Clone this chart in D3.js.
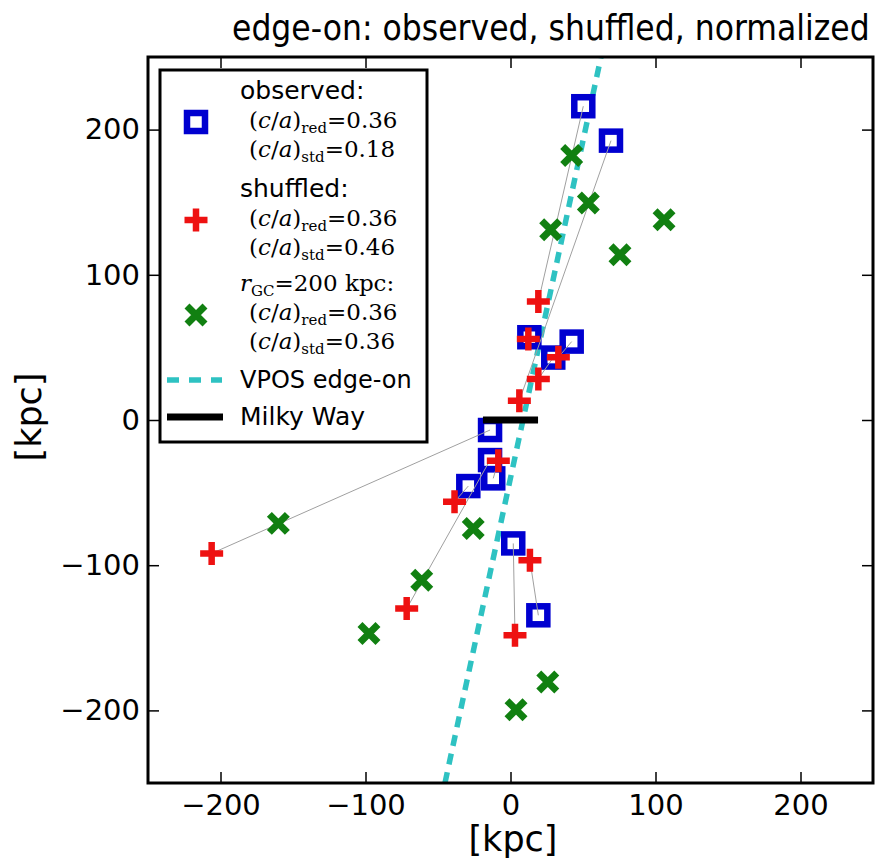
<!DOCTYPE html>
<html>
<head>
<meta charset="utf-8">
<script src="https://cdn.jsdelivr.net/npm/d3@7"></script>
<style>
  body { margin: 0; background: #fff; }
  text { font-family: "DejaVu Sans", sans-serif; }
  .math { font-family: "DejaVu Serif", serif; }
</style>
</head>
<body>
<div id="chart"></div>
<script>
// satellite positions, edge-on view [x, y] in kpc (same order in every array)
const observed = [[50.2, 216.1], [69.3, 192.4], [13.0, 57.0], [42.2, 54.0], [29.5, 43.0],
  [-14.1, -6.9], [-14.1, -27.6], [-11.9, -40.2], [-29.1, -45.5], [1.9, -85.0], [19.2, -134.5]];
const shuffled = [[19.2, 81.6], [6.1, 13.3], [12.3, 55.7], [33.0, 43.2], [19.2, 28.3],
  [-206.1, -91.9], [-71.6, -129.9], [-8.4, -28.1], [-38.6, -56.3], [3.1, -148.3], [13.4, -96.6]];
const normalized = [[42.2, 182.1], [53.7, 149.4], [27.7, 131.0], [105.9, 137.9], [75.5, 113.8],
  [-160.1, -71.2], [-61.2, -110.3], [-25.7, -74.7], [-97.6, -147.1], [3.8, -199.5], [25.7, -180.5]];
const vposLine = [[-45.2, -250], [62.4, 250]];
const milkyWay = [[-19, 0], [19, 0]];
const ticks = [-200, -100, 0, 100, 200];
const caStats = [
  { head: "observed:", red: "0.36", std: "0.18" },
  { head: "shuffled:", red: "0.36", std: "0.46" },
  { head: "rGC", red: "0.36", std: "0.36" }
];

const W = 892, H = 864;
const plot = { left: 148, right: 873, top: 57, bottom: 783 };

const svg = d3.select("#chart").append("svg")
  .attr("width", W).attr("height", H);

const x = d3.scaleLinear().domain([-250, 250]).range([plot.left, plot.right]);
const y = d3.scaleLinear().domain([-250, 250]).range([plot.bottom, plot.top]);

const blue = "#0000d0", red = "#ee1111", green = "#118011", cyan = "#2ec2c2";

/** markers */
const square = (g) => g.append("rect")
  .attr("x", -9).attr("y", -9).attr("width", 18).attr("height", 18)
  .attr("fill", "#fff").attr("stroke", blue).attr("stroke-width", 6.5);
const plus = (g) => g.append("path")
  .attr("d", "M-11.5,0H11.5M0,-11.5V11.5").attr("stroke", red).attr("stroke-width", 6.5);
const cross = (g) => g.append("path")
  .attr("d", "M-9,-9L9,9M-9,9L9,-9").attr("stroke", green).attr("stroke-width", 7);

const line = d3.line().x((d) => x(d[0])).y((d) => y(d[1]));

// VPOS plane
svg.append("path").attr("d", line(vposLine))
  .attr("fill", "none").attr("stroke", cyan).attr("stroke-width", 5.5)
  .attr("stroke-dasharray", "11,8");

// observed points
svg.append("g").selectAll("g").data(observed).join("g")
  .attr("transform", (d) => `translate(${x(d[0])},${y(d[1])})`)
  .each(function () { square(d3.select(this)); });

// connecting lines observed -> shuffled
svg.append("g").selectAll("path").data(observed).join("path")
  .attr("d", (d, i) => line([d, shuffled[i]]))
  .attr("stroke", "#a0a0a0").attr("stroke-width", 1).attr("fill", "none");

svg.append("g").selectAll("g").data(shuffled).join("g")
  .attr("transform", (d) => `translate(${x(d[0])},${y(d[1])})`)
  .each(function () { plus(d3.select(this)); });

svg.append("g").selectAll("g").data(normalized).join("g")
  .attr("transform", (d) => `translate(${x(d[0])},${y(d[1])})`)
  .each(function () { cross(d3.select(this)); });

// Milky Way disk
svg.append("path").attr("d", line(milkyWay))
  .attr("stroke", "#000").attr("stroke-width", 7);

/** axes: inward ticks on all four sides */
const fmt = d3.format("d");
const styleAxis = (g) => {
  g.select(".domain").remove();
  g.selectAll(".tick line").attr("stroke", "#000").attr("stroke-width", 1.5);
  g.selectAll(".tick text").attr("fill", "#000").style("font-size", "29px")
    .style("font-family", "DejaVu Sans");
};
svg.append("g").attr("transform", `translate(0,${plot.bottom})`)
  .call(d3.axisBottom(x).tickValues(ticks).tickFormat(fmt).tickSize(-11).tickPadding(11))
  .call(styleAxis);
svg.append("g").attr("transform", `translate(0,${plot.top})`)
  .call(d3.axisTop(x).tickValues(ticks).tickFormat("").tickSize(-11))
  .call(styleAxis);
svg.append("g").attr("transform", `translate(${plot.left},0)`)
  .call(d3.axisLeft(y).tickValues(ticks).tickFormat(fmt).tickSize(-11).tickPadding(8))
  .call(styleAxis);
svg.append("g").attr("transform", `translate(${plot.right},0)`)
  .call(d3.axisRight(y).tickValues(ticks).tickFormat("").tickSize(-11))
  .call(styleAxis);

svg.append("rect")
  .attr("x", plot.left).attr("y", plot.top)
  .attr("width", plot.right - plot.left).attr("height", plot.bottom - plot.top)
  .attr("fill", "none").attr("stroke", "#000").attr("stroke-width", 3);

svg.append("text").attr("transform", "translate(232,40) scale(1,1.12)")
  .style("font-size", "31.5px").text("edge-on: observed, shuffled, normalized");
svg.append("text").attr("x", 513).attr("y", 851).attr("text-anchor", "middle")
  .style("font-size", "35px").text("[kpc]");
svg.append("text").attr("transform", "translate(41,417) rotate(-90)")
  .attr("text-anchor", "middle").style("font-size", "35px").text("[kpc]");

/** legend */
const lg = svg.append("g");
lg.append("rect").attr("x", 160).attr("y", 70).attr("width", 267).attr("height", 372)
  .attr("fill", "#fff").attr("stroke", "#000").attr("stroke-width", 3);

const mathLine = (yy, sub, val) => {
  const t = lg.append("text").attr("class", "math").attr("x", 249).attr("y", yy)
    .style("font-size", "23px");
  t.append("tspan").text("(");
  t.append("tspan").style("font-style", "italic").text("c");
  t.append("tspan").text("/");
  t.append("tspan").style("font-style", "italic").text("a");
  t.append("tspan").text(")");
  t.append("tspan").attr("dy", 5).style("font-size", "15px").text(sub);
  t.append("tspan").attr("dy", -5).text("=" + val);
};

const groupY = [[99, 128, 157], [197, 226, 255], [291, 320, 349]];
const markerY = [122, 220, 315];
const markers = [square, plus, cross];
caStats.forEach((s, i) => {
  const [hy, ry, sy] = groupY[i];
  if (s.head === "rGC") {
    const t = lg.append("text").attr("class", "math").attr("x", 240).attr("y", hy)
      .style("font-size", "23px");
    t.append("tspan").style("font-style", "italic").text("r");
    t.append("tspan").attr("dy", 5).style("font-size", "15px").text("GC");
    t.append("tspan").attr("dy", -5).text("=200 kpc:");
  } else {
    lg.append("text").attr("x", 240).attr("y", hy).style("font-size", "25px").text(s.head);
  }
  mathLine(ry, "red", s.red);
  mathLine(sy, "std", s.std);
  markers[i](lg.append("g").attr("transform", `translate(196,${markerY[i]})`));
});

lg.append("line").attr("x1", 167).attr("x2", 222).attr("y1", 380).attr("y2", 380)
  .attr("stroke", cyan).attr("stroke-width", 5.5).attr("stroke-dasharray", "12,10");
lg.append("text").attr("x", 240).attr("y", 388).style("font-size", "24px").text("VPOS edge-on");
lg.append("line").attr("x1", 167).attr("x2", 223).attr("y1", 417).attr("y2", 417)
  .attr("stroke", "#000").attr("stroke-width", 7);
lg.append("text").attr("x", 240).attr("y", 425).style("font-size", "25px").text("Milky Way");
</script>
</body>
</html>
